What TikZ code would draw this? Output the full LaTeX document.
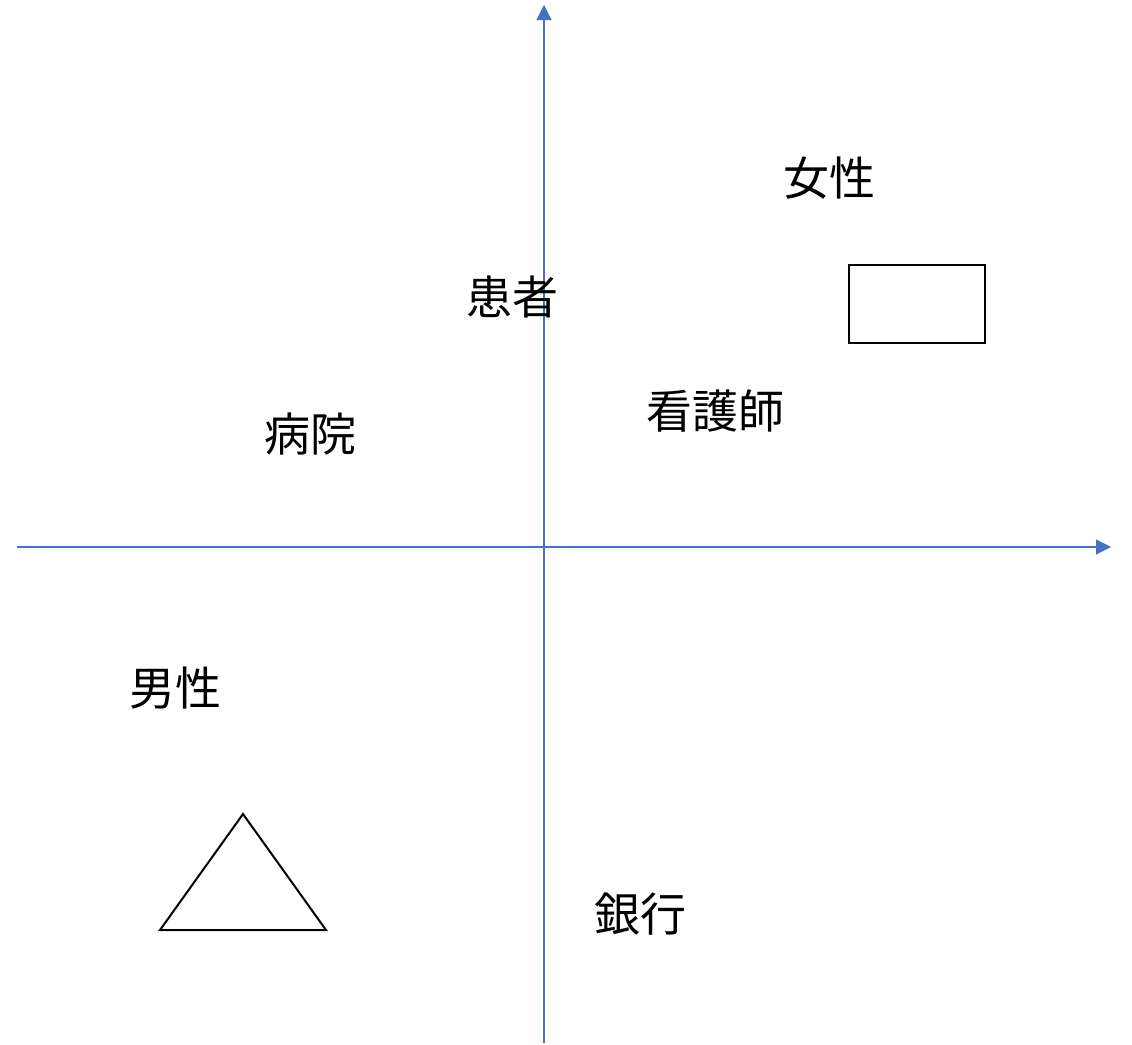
\documentclass[tikz,border=0pt]{standalone}
\usepackage{fontspec}
\setmainfont{Noto Sans CJK JP}
\usetikzlibrary{arrows.meta}
\definecolor{axisblue}{HTML}{4472C4}
\begin{document}
\begin{tikzpicture}[x=1pt,y=-1pt,
  axis/.style={draw=axisblue,line width=1.1pt,-{Triangle[length=15pt,width=15pt]}},
  lbl/.style={font=\fontsize{46}{54}\selectfont,inner sep=0pt},
  outline/.style={draw=black,line width=2pt}]
\useasboundingbox (0,0) rectangle (1132,1044);
\coordinate (ybot) at (544,1043);
\coordinate (ytop) at (544,5);
\coordinate (xl) at (17,547);
\coordinate (xr) at (1111,547);
\draw[axis] (ybot) -- (ytop);
\draw[axis] (xl) -- (xr);
\node[lbl] (jo) at (829,178) {女性};
\node[lbl] (kanja) at (512,297) {患者};
\node[lbl] (kango) at (715,411) {看護師};
\node[lbl] (byoin) at (310,434) {病院};
\node[lbl] (dansei) at (175,688) {男性};
\node[lbl] (ginko) at (640,914) {銀行};
\draw[outline] (849,265) rectangle (985,343);
\draw[outline,line join=miter] (243,814) -- (160,930) -- (326,930) -- cycle;
\end{tikzpicture}
\end{document}
